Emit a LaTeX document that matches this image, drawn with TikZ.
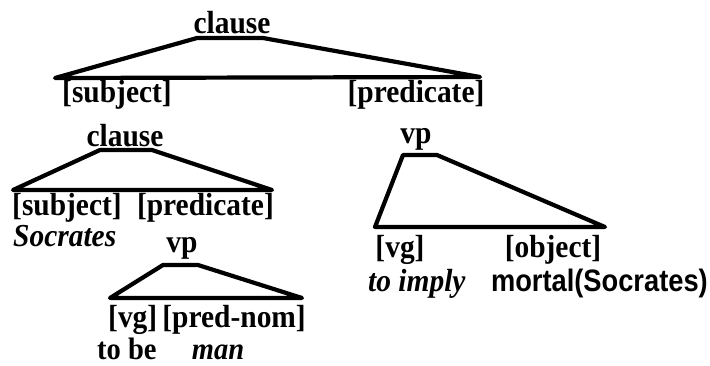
\documentclass[tikz,border=0pt]{standalone}
\usepackage{fontspec}
\setmainfont{Liberation Serif}
\newfontfamily\serifn[FakeStretch=0.92]{Liberation Serif}
\newfontfamily\sansb[FakeStretch=0.88]{Liberation Sans}
\begin{document}
\begin{tikzpicture}[x=1pt,y=-1pt,
  lab/.style={anchor=base, inner sep=0pt, font=\fontsize{32}{34}\selectfont\serifn\bfseries},
  itl/.style={lab, font=\fontsize{32}{34}\selectfont\serifn\bfseries\itshape},
  sns/.style={lab, font=\fontsize{31}{34}\selectfont\sansb\bfseries},
  tri/.style={line width=4.2pt, line join=round, line cap=round}]
\useasboundingbox (0,0) rectangle (710,365);
% top level
\node[lab] (c1) at (232,33) {clause};
\node[lab] (s1) at (117,102) {[subject]};
\node[lab] (p1) at (416,102) {[predicate]};
\coordinate (c1tl) at (197,38); \coordinate (c1tr) at (263,38);
\coordinate (c1bl) at (55,78);  \coordinate (c1br) at (480,77);
\draw[tri] (c1bl) -- (c1tl) -- (c1tr) -- (c1br) -- cycle;
% left clause
\node[lab] (c2) at (125,146) {clause};
\coordinate (c2tl) at (100,150); \coordinate (c2tr) at (152,150);
\coordinate (c2bl) at (13,190);  \coordinate (c2br) at (272,190);
\draw[tri] (c2bl) -- (c2tl) -- (c2tr) -- (c2br) -- cycle;
\node[lab, anchor=base west] (s2) at (12,215) {[subject]};
\node[lab, anchor=base east] (p2) at (274,215) {[predicate]};
\node[itl, anchor=base west] (soc) at (13,246) {Socrates};
\node[lab] (vp2) at (182,252) {vp};
\coordinate (v2tl) at (163,265); \coordinate (v2tr) at (198,265);
\coordinate (v2bl) at (110,298); \coordinate (v2br) at (302,298);
\draw[tri] (v2bl) -- (v2tl) -- (v2tr) -- (v2br) -- cycle;
\node[lab, anchor=base west] (vg2) at (108,327) {[vg]};
\node[lab, anchor=base east] (pn) at (306,327) {[pred-nom]};
\node[lab, anchor=base west, font=\fontsize{31}{34}\selectfont\serifn\bfseries] (tb) at (97,359) {to be};
\node[itl, font=\fontsize{31}{34}\selectfont\serifn\bfseries\itshape] (man) at (218,359) {man};
% right vp
\node[lab] (vp1) at (416,143) {vp};
\coordinate (v1tl) at (403,155); \coordinate (v1tr) at (437,155);
\coordinate (v1bl) at (375,227); \coordinate (v1br) at (605,227);
\draw[tri] (v1bl) -- (v1tl) -- (v1tr) -- (v1br) -- cycle;
\node[lab] (vg1) at (400,257) {[vg]};
\node[lab] (ob) at (553,257) {[object]};
\node[itl, anchor=base west] (ti) at (368,291) {to imply};
\node[sns, anchor=base east] (ms) at (708,291) {mortal(Socrates)};
\end{tikzpicture}
\end{document}
